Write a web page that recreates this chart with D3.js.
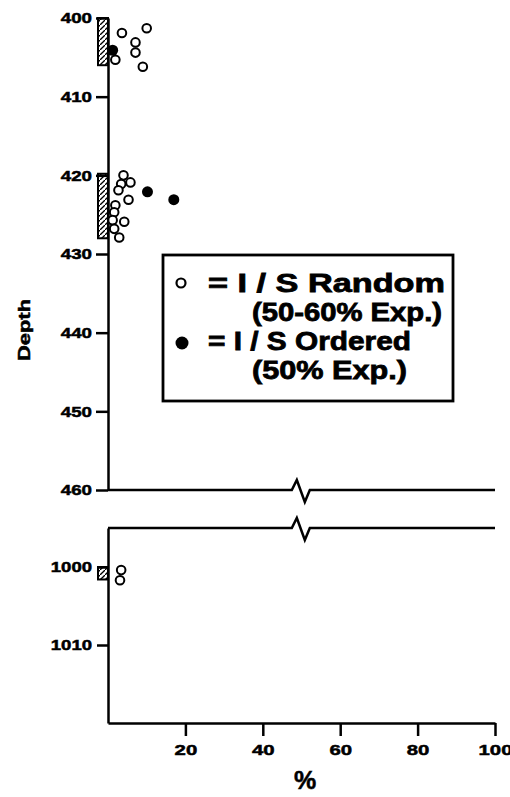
<!DOCTYPE html>
<html>
<head>
<meta charset="utf-8">
<script src="https://cdn.jsdelivr.net/npm/d3@7"></script>
<style>
  body { margin: 0; background: #fff; }
  text { font-family: "Liberation Sans", Arial, sans-serif; font-weight: bold; fill: #000; stroke: #000; stroke-width: 0.5; }
</style>
</head>
<body>
<div id="chart"></div>
<script>
// Data
// open circles = I/S random, filled = I/S ordered ([percent, depth])
const randomPts = [
  [3.6, 401.9], [10.0, 401.3], [7.1, 403.1], [7.1, 404.4], [1.9, 405.3], [9.0, 406.2],
  [4.0, 420.0], [5.8, 420.9], [3.4, 421.1], [2.7, 421.9], [5.3, 423.1], [1.9, 423.8],
  [1.6, 424.7], [4.2, 425.9], [1.2, 425.7], [1.6, 426.8], [2.9, 427.9],
  [3.4, 1000.4], [3.1, 1001.7]
];
const orderedPts = [[1.2, 404.1], [10.2, 422.1], [17.0, 423.1]];
// hatched depth intervals next to the axis
const hatched = [[400, 406], [419.8, 428], [1000, 1001.6]];

const topTicks = [400, 410, 420, 430, 440, 450, 460];
const botTicks = [1000, 1010];
const xTicks = [20, 40, 60, 80, 100];
const legendRows = [
  { marker: "open", text: "= I / S Random", sub: "(50-60% Exp.)" },
  { marker: "filled", text: "= I / S Ordered", sub: "(50% Exp.)" }
];

const width = 510, height = 797;

const svg = d3.select("#chart").append("svg")
  .attr("width", width).attr("height", height);

// hatch pattern
svg.append("defs").append("pattern")
  .attr("id", "hatch")
  .attr("patternUnits", "userSpaceOnUse")
  .attr("width", 5).attr("height", 5)
  .append("path")
  .attr("d", "M-1,6 L6,-1")
  .attr("stroke", "#000").attr("stroke-width", 1.3);

// Scales
const x = d3.scaleLinear().domain([0, 100]).range([108, 495]);
const yTop = d3.scaleLinear().domain([400, 460]).range([18, 490]);
const yBot = d3.scaleLinear().domain([995, 1020]).range([528, 723]);
const yFor = d => d > 900 ? yBot(d) : yTop(d);
const fmt = d3.format("d");

function styleAxis(g, digitW) {
  g.select(".domain").attr("stroke-width", 2.5);
  g.selectAll(".tick line").attr("stroke-width", 2.5);
  g.selectAll(".tick text")
    .attr("font-size", 15)
    .attr("textLength", d => fmt(d).length * digitW)
    .attr("lengthAdjust", "spacingAndGlyphs");
}

// Axes
svg.append("g")
  .attr("transform", `translate(${x(0)},0)`)
  .call(d3.axisLeft(yTop).tickValues(topTicks).tickFormat(fmt).tickSize(12).tickPadding(4).tickSizeOuter(0))
  .call(g => styleAxis(g, 10.4));

svg.append("g")
  .attr("transform", `translate(${x(0)},0)`)
  .call(d3.axisLeft(yBot).tickValues(botTicks).tickFormat(fmt).tickSize(11).tickPadding(5).tickSizeOuter(0))
  .call(g => styleAxis(g, 10.3));

svg.append("g")
  .attr("transform", `translate(0,${yBot(1020)})`)
  .call(d3.axisBottom(x).tickValues(xTicks).tickFormat(fmt).tickSize(13).tickSizeOuter(0))
  .call(g => styleAxis(g, 11.3))
  .call(g => g.selectAll(".tick text").attr("y", 32).attr("dy", null));

// broken-axis lines with zigzag
const brk = 47.5;
function breakLine(yv) {
  const x0 = x(brk);
  return `M${x(0)},${yv} L${x0},${yv} L${x0 + 5},${yv - 10} L${x0 + 13},${yv + 12} L${x0 + 18},${yv} L${x(100)},${yv}`;
}
svg.append("path").attr("d", breakLine(yTop(460)))
  .attr("fill", "none").attr("stroke", "#000").attr("stroke-width", 2.5);
svg.append("path").attr("d", breakLine(yBot(995)))
  .attr("fill", "none").attr("stroke", "#000").attr("stroke-width", 2.5);

// hatched bars
svg.selectAll("rect.hatch")
  .data(hatched)
  .enter().append("rect")
  .attr("class", "hatch")
  .attr("x", x(0) - 10)
  .attr("y", d => yFor(d[0]))
  .attr("width", 10)
  .attr("height", d => yFor(d[1]) - yFor(d[0]))
  .attr("fill", "url(#hatch)")
  .attr("stroke", "#000").attr("stroke-width", 2);

// points
svg.selectAll("circle.rand")
  .data(randomPts)
  .enter().append("circle")
  .attr("class", "rand")
  .attr("cx", d => x(d[0]))
  .attr("cy", d => yFor(d[1]))
  .attr("r", 4.3)
  .attr("fill", "#fff").attr("stroke", "#000").attr("stroke-width", 2);

svg.selectAll("circle.ord")
  .data(orderedPts)
  .enter().append("circle")
  .attr("class", "ord")
  .attr("cx", d => x(d[0]))
  .attr("cy", d => yFor(d[1]))
  .attr("r", 5.5)
  .attr("fill", "#000");

// Legend
const lg = svg.append("g");
lg.append("rect")
  .attr("x", 163).attr("y", 255).attr("width", 290).attr("height", 146)
  .attr("fill", "#fff").attr("stroke", "#000").attr("stroke-width", 2.8);

const lens = [[237, 190], [203, 155]];
legendRows.forEach((r, i) => {
  const by = 292 + i * 58;
  if (r.marker === "open") {
    lg.append("circle").attr("cx", 181).attr("cy", by - 9).attr("r", 4.5)
      .attr("fill", "#fff").attr("stroke", "#000").attr("stroke-width", 2.2);
  } else {
    lg.append("circle").attr("cx", 182).attr("cy", by - 7).attr("r", 6.5).attr("fill", "#000");
  }
  lg.append("text").attr("x", 208).attr("y", by)
    .attr("font-size", 26).style("stroke-width", 0.8)
    .attr("textLength", lens[i][0]).attr("lengthAdjust", "spacingAndGlyphs")
    .text(r.text);
  lg.append("text").attr("x", 252).attr("y", by + 29)
    .attr("font-size", 26).style("stroke-width", 0.8)
    .attr("textLength", lens[i][1]).attr("lengthAdjust", "spacingAndGlyphs")
    .text(r.sub);
});

// Axis titles
svg.append("text")
  .attr("transform", "translate(30,330) rotate(-90)")
  .attr("text-anchor", "middle")
  .attr("font-size", 16)
  .attr("textLength", 62).attr("lengthAdjust", "spacingAndGlyphs")
  .text("Depth");

svg.append("text")
  .attr("x", 305).attr("y", 789)
  .attr("text-anchor", "middle")
  .attr("font-size", 25)
  .text("%");
</script>
</body>
</html>
